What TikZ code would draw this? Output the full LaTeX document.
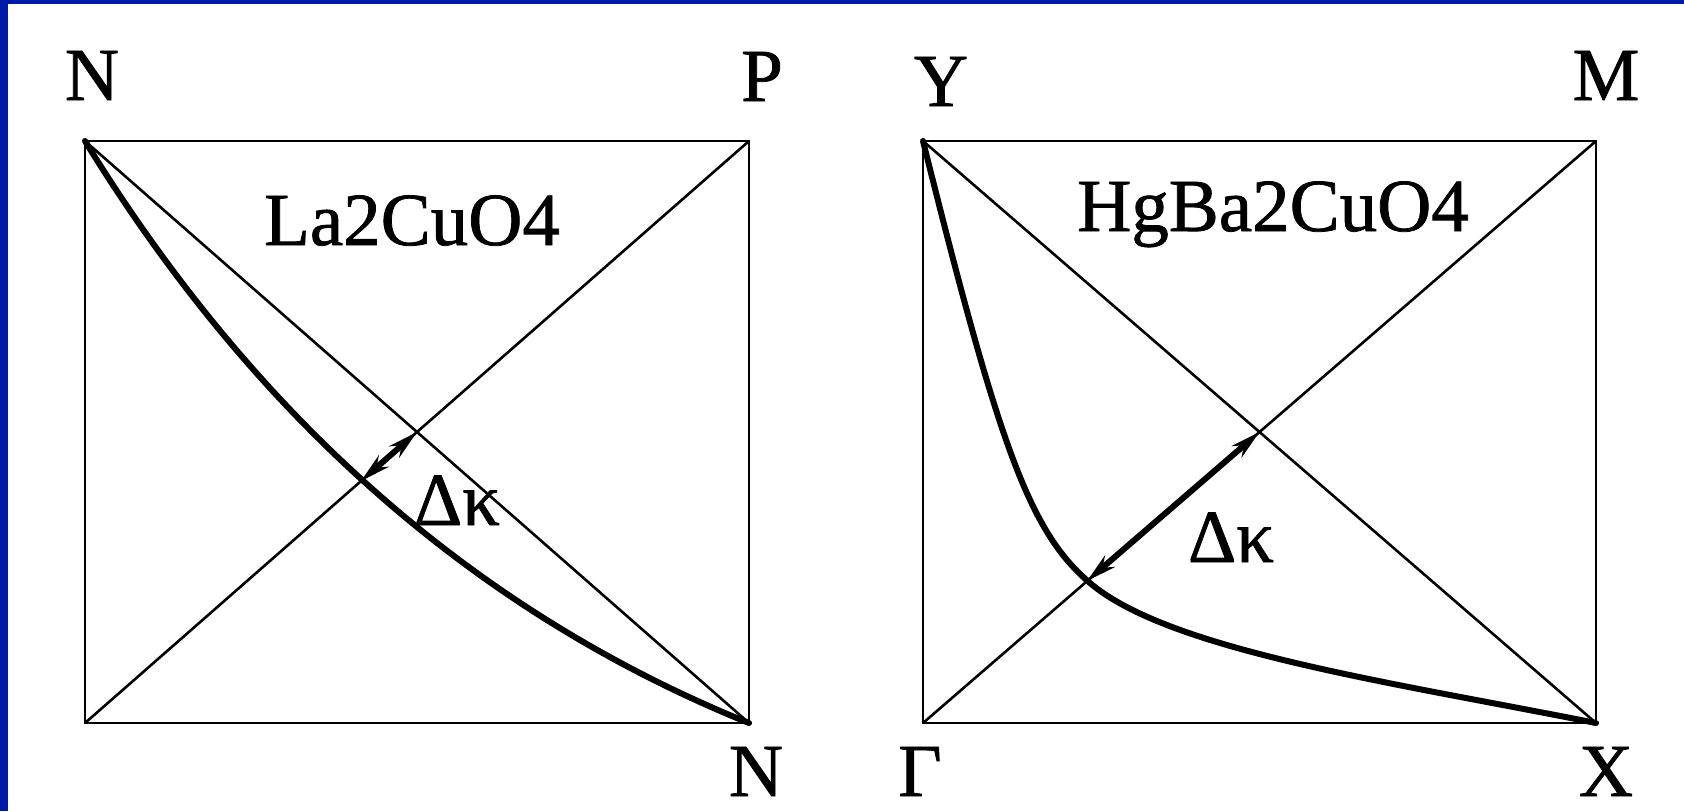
\documentclass[tikz,border=0pt]{standalone}
\usepackage{fontspec}
\setmainfont{Liberation Serif}
\newfontfamily\slidefont{Liberation Serif}[FakeBold=1]
\usepackage{xcolor}
\usepackage{tikz}
\usetikzlibrary{arrows.meta}
\definecolor{slideblue}{RGB}{0,26,168}

\begin{document}
\begin{tikzpicture}[
    x=0.5pt, y=-0.5pt,
    lbl/.style={anchor=base, inner sep=0pt, font=\slidefont\fontsize{37.5}{40}\selectfont},
    frame/.style={line width=1.3pt, line join=miter},
    fermi/.style={line width=3pt, line join=round, line cap=round},
    dk/.style={{Stealth[length=15pt, width=7.5pt]}-{Stealth[length=15pt, width=7.5pt]}, line width=3pt}
]
\useasboundingbox (0,0) rectangle (1684,811);
\fill[white] (0,0) rectangle (1684,811);
\fill[slideblue] (0,0) rectangle (8,811);
\fill[slideblue] (0,0) rectangle (1684,4);

% corners of the two zones
\coordinate (lTL) at (85,141);
\coordinate (lTR) at (749,141);
\coordinate (lBL) at (85,723);
\coordinate (lBR) at (749,723);
\coordinate (rTL) at (923,141);
\coordinate (rTR) at (1596,141);
\coordinate (rBL) at (923,723);
\coordinate (rBR) at (1596,723);
\coordinate (lc) at (417,432);
\coordinate (rc) at (1259.5,432);
\coordinate (lk) at (361,481);
\coordinate (rk) at (1087,581);

% symmetry point labels
\node[lbl] (nTL) at (92,100) {N};
\node[lbl] (pTR) at (762,101) {P};
\node[lbl] (nBR) at (756,796) {N};
\node[lbl] (yTL) at (941,106) {Y};
\node[lbl] (mTR) at (1606,100) {M};
\node[lbl] (gBL) at (920,796) {Γ};
\node[lbl] (xBR) at (1606,796) {X};

\node[lbl] (la) at (412,245) {La2CuO4};
\node[lbl] (hg) at (1273,231) {HgBa2CuO4};
\node[lbl] (dkl) at (457,525) {Δκ};
\node[lbl] (dkr) at (1231,562) {Δκ};

% left zone
\draw[frame] (lTL) rectangle (lBR);
\draw[frame] (lTL) -- (lBR);
\draw[frame] (lBL) -- (lTR);
\draw[fermi] (lTL) .. controls (256,419) and (477,613) .. (lBR);
\draw[dk] (lk) -- (lc);

% right zone
\draw[frame] (rTL) rectangle (rBR);
\draw[frame] (rTL) -- (rBR);
\draw[frame] (rBL) -- (rTR);
\draw[fermi] (rTL) .. controls (1000,450) and (1030,532) .. (1090,583)
                    .. controls (1170,651) and (1396,683) .. (rBR);
\draw[dk] (rk) -- (rc);
\end{tikzpicture}
\end{document}
